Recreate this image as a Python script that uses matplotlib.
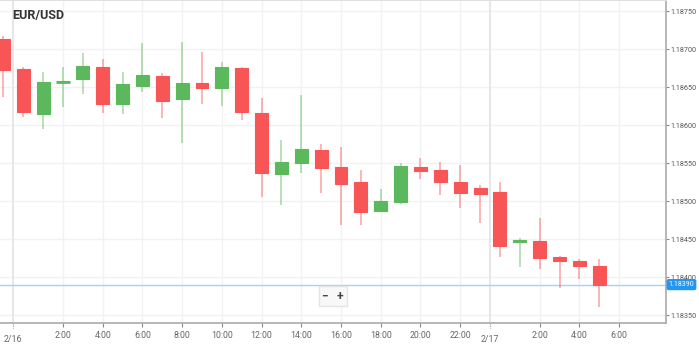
import matplotlib
matplotlib.use('Agg')
import matplotlib.pyplot as plt
import numpy as np

plt.rcParams['font.family'] = ['Roboto', 'DejaVu Sans']

# hourly candles, hours counted from 2/16 0:00
hours = list(range(-1, 30))
opens = [1.18713, 1.18674, 1.18614, 1.18656, 1.18661, 1.18676, 1.18628, 1.18651,
         1.18664, 1.18634, 1.18655, 1.18649, 1.18675, 1.18616, 1.18536, 1.18550,
         1.18567, 1.18545, 1.18525, 1.18487, 1.18499, 1.18545, 1.18541, 1.18525,
         1.18517, 1.18512, 1.18446, 1.18447, 1.18426, 1.18421, 1.18414]
highs = [1.18717, 1.18676, 1.18670, 1.18676, 1.18695, 1.18687, 1.18670, 1.18708,
         1.18668, 1.18709, 1.18696, 1.18683, 1.18676, 1.18636, 1.18580, 1.18639,
         1.18575, 1.18571, 1.18541, 1.18516, 1.18550, 1.18557, 1.18551, 1.18547,
         1.18521, 1.18525, 1.18451, 1.18478, 1.18428, 1.18424, 1.18424]
lows = [1.18637, 1.18611, 1.18595, 1.18624, 1.18641, 1.18616, 1.18614, 1.18643,
        1.18609, 1.18576, 1.18628, 1.18625, 1.18607, 1.18505, 1.18495, 1.18537,
        1.18511, 1.18468, 1.18468, 1.18486, 1.18496, 1.18529, 1.18508, 1.18491,
        1.18471, 1.18426, 1.18413, 1.18411, 1.18386, 1.18397, 1.18361]
closes = [1.18672, 1.18617, 1.18657, 1.18658, 1.18678, 1.18628, 1.18654, 1.18666,
          1.18632, 1.18655, 1.18649, 1.18676, 1.18617, 1.18537, 1.18551, 1.18568,
          1.18543, 1.18522, 1.18486, 1.18500, 1.18546, 1.18539, 1.18525, 1.18511,
          1.18509, 1.18441, 1.18449, 1.18425, 1.18421, 1.18414, 1.18390]

last_price = 1.18390
price_ticks = [1.18350, 1.18400, 1.18450, 1.18500, 1.18550, 1.18600, 1.18650, 1.18700, 1.18750]
hour_ticks = [2, 4, 6, 8, 10, 12, 14, 16, 18, 20, 22, 26, 28, 30]
hour_labels = ['2:00', '4:00', '6:00', '8:00', '10:00', '12:00', '14:00', '16:00',
               '18:00', '20:00', '22:00', '2:00', '4:00', '6:00']
date_ticks = [-0.5, 23.5]
date_labels = ['2/16', '2/17']

red = '#f85656'
green = '#5cb85c'

fig = plt.figure(figsize=(6.99, 3.46), dpi=100)
ax = fig.add_axes([0, 23 / 346, 666 / 699, 323 / 346])

o = np.array(opens)
c = np.array(closes)
up = c >= o
cols = [green if u else red for u in up]

ax.vlines(hours, lows, highs, colors=cols, linewidth=1.2, alpha=0.5, zorder=2)
ax.bar(hours, np.abs(c - o), bottom=np.minimum(o, c), width=0.65, color=cols,
       edgecolor=cols, linewidth=0.8, zorder=3)
# doji-ish candles keep a minimum visible height
for h, oo, cc, col in zip(hours, o, c, cols):
    if abs(cc - oo) < 0.00002:
        ax.hlines((oo + cc) / 2, h - 0.33, h + 0.33, colors=col, linewidth=2, zorder=3)

ax.axhline(last_price, color='#9fd4f7', linewidth=1, zorder=1)

ax.set_xlim(-1.17, 32.36)
ax.set_ylim(1.183395, 1.187645)

for y in price_ticks:
    ax.axhline(y, color='#f2f2f2', linewidth=1, zorder=0)
for x in hour_ticks:
    ax.axvline(x, color='#f2f2f2', linewidth=1, zorder=0)
for x in date_ticks:
    ax.axvline(x, color='#e3e3e3', linewidth=1.2, zorder=0)

ax.yaxis.tick_right()
ax.set_yticks(price_ticks)
ax.set_yticklabels(['%.5f' % v for v in price_ticks])
ax.tick_params(axis='y', labelsize=5.2, colors='#888', labelcolor='#555', length=2,
               width=0.8, pad=1)
ax.set_xticks(hour_ticks)
ax.set_xticklabels(hour_labels)
ax.tick_params(axis='x', labelsize=6.3, colors='#888', labelcolor='#666', length=3,
               width=0.8, pad=3)

for x, lab in zip(date_ticks, date_labels):
    ax.plot([x, x], [0, -5 / 323], transform=ax.get_xaxis_transform(), color='#999',
            linewidth=0.8, linestyle=(0, (1, 1)), clip_on=False)
    ax.text(x, -16 / 323, lab, transform=ax.get_xaxis_transform(), ha='center',
            va='center', fontsize=6.3, color='#666')

ax.spines['left'].set_visible(False)
ax.spines['top'].set_color('#e0e0e0')
ax.spines['right'].set_color('#aaaaaa')
ax.spines['bottom'].set_color('#aaaaaa')
ax.spines['right'].set_linewidth(1.2)
ax.spines['bottom'].set_linewidth(1.2)

ax.text(12 / 666, 1 - 15 / 323, 'EUR/USD', transform=ax.transAxes, fontsize=9,
        fontweight='bold', color='#333', va='center', ha='left')

ax.text(1.004, last_price, '%.5f' % last_price, transform=ax.get_yaxis_transform(),
        fontsize=5.0, color='white', va='center', ha='left',
        bbox=dict(boxstyle='round,pad=0.2,rounding_size=0.2', fc='#2196f3', ec='#2196f3'))

ax.text(333 / 666, 1 - 296 / 323, '\u2212   +', transform=ax.transAxes, fontsize=8.5,
        fontweight='bold', color='#444', ha='center', va='center',
        bbox=dict(boxstyle='square,pad=0.3', fc='#f8f8f8', ec='#e4e4e4'))

fig.savefig('out.png', dpi=100)
